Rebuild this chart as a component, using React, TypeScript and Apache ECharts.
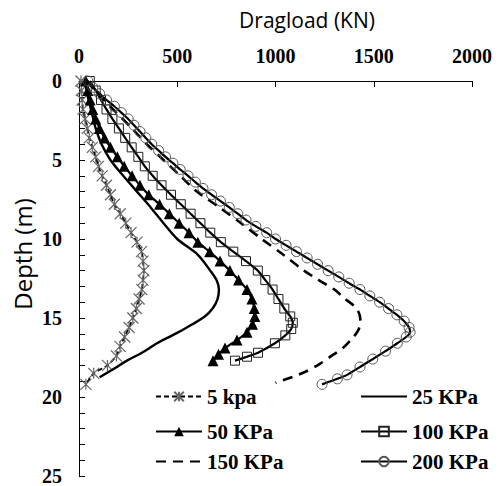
import React, { useEffect, useRef } from "react";
import * as echarts from "echarts";

// Dragload (kN) vs depth (m) for each surcharge
const depth5 = [0, 0.6, 1.2, 1.8, 2.4, 3.0, 3.6, 4.2, 4.8, 5.4, 6.0, 6.6, 7.2, 7.8, 8.4, 9.0, 9.6, 10.2, 10.8, 11.4, 12.0, 12.6, 13.2, 13.8, 14.4, 15.0, 15.6, 16.2, 16.8, 17.4, 18.0, 18.5, 19.2];
const load5 = [10, 12, 16, 20, 31, 42, 52, 68, 85, 99, 118, 140, 160, 180, 210, 238, 265, 295, 318, 326, 330, 326, 320, 306, 292, 274, 255, 232, 209, 190, 145, 75, 35];

const depth25 = [0, 1, 2, 3, 4, 5, 6, 7, 8, 9, 10, 11, 12, 12.6, 13.2, 13.8, 14.4, 14.9, 15.6, 16.1, 16.6, 17.2, 17.7, 18.2, 18.75];
const load25 = [30, 45, 65, 85, 115, 160, 225, 295, 365, 430, 500, 605, 668, 700, 712, 705, 680, 640, 549, 475, 397, 320, 244, 180, 105];

const depth50 = [0, 0.6, 1.2, 1.8, 2.4, 3.0, 3.6, 4.2, 4.8, 5.4, 6.0, 6.6, 7.2, 7.8, 8.4, 9.0, 9.6, 10.2, 10.8, 11.4, 12.0, 12.6, 13.2, 13.8, 14.4, 14.9, 15.4, 15.9, 16.4, 16.9, 17.3, 17.7];
const load50 = [35, 45, 57, 70, 85, 105, 130, 160, 195, 230, 270, 310, 355, 410, 460, 510, 560, 605, 665, 718, 768, 812, 855, 880, 892, 895, 883, 855, 804, 743, 710, 682];

const depth100 = [0, 0.6, 1.2, 1.8, 2.4, 3.0, 3.6, 4.2, 4.8, 5.4, 6.0, 6.6, 7.2, 7.8, 8.4, 9.0, 9.6, 10.2, 10.8, 11.4, 12.0, 12.6, 13.2, 13.8, 14.4, 14.9, 15.3, 15.7, 16.1, 16.6, 17.2, 17.45, 17.7];
const load100 = [55, 85, 112, 140, 170, 203, 235, 268, 302, 335, 375, 420, 468, 518, 568, 618, 668, 722, 785, 850, 910, 948, 985, 1015, 1045, 1075, 1088, 1080, 1050, 997, 911, 855, 794];

const depth150 = [0, 0.5, 1, 1.5, 2, 3, 4, 5, 6, 7, 8, 9, 10, 11, 12, 12.6, 13.2, 13.7, 14.3, 14.8, 15.3, 15.8, 16.3, 16.9, 17.4, 17.9, 18.5, 19.1];
const load150 = [40, 75, 110, 150, 190, 270, 345, 430, 515, 600, 715, 825, 930, 1040, 1145, 1220, 1300, 1345, 1405, 1428, 1432, 1420, 1390, 1343, 1285, 1226, 1135, 1000];

const depth200 = [0, 0.4, 0.8, 1.2, 1.6, 2.0, 2.4, 2.8, 3.2, 3.6, 4.0, 4.4, 4.8, 5.2, 5.6, 6.0, 6.4, 6.8, 7.2, 7.6, 8.0, 8.4, 8.8, 9.2, 9.6, 10.0, 10.4, 10.8, 11.2, 11.6, 12.0, 12.4, 12.8, 13.2, 13.6, 14.0, 14.4, 14.8, 15.2, 15.6, 15.9, 16.2, 16.6, 17.1, 17.6, 18.1, 18.6, 18.85, 19.2];
const load200 = [45, 70, 105, 140, 180, 215, 250, 280, 310, 340, 370, 405, 440, 478, 515, 555, 592, 631, 675, 720, 765, 808, 850, 900, 955, 1000, 1054, 1107, 1161, 1214, 1268, 1322, 1375, 1430, 1480, 1530, 1575, 1618, 1655, 1680, 1685, 1665, 1620, 1560, 1495, 1430, 1364, 1315, 1237];

const seriesNames = ["5 kpa", "25 KPa", "50 KPa", "100 KPa", "150 KPa", "200 KPa"];
const xTickValues = [0, 500, 1000, 1500, 2000];
const yTickValues = [0, 5, 10, 15, 20, 25];
const xTitle = "Dragload (KN)";
const yTitle = "Depth (m)";

const pairs = (d: number[], l: number[]) => d.map((v, i) => [l[i], v]);

const ASTERISK = "path://M0,0L10,10M10,0L0,10M5,0L5,10";

export default function App() {
  const ref = useRef<HTMLDivElement>(null);
  useEffect(() => {
    if (!ref.current) return;
    const chart = echarts.init(ref.current, undefined, { renderer: "svg" });
    const serif = "'Liberation Serif', 'Times New Roman', serif";
    const sans = "'Open Sans', 'Noto Sans', sans-serif";
    const legendCommon = {
      padding: 0,
      itemWidth: 46,
      itemHeight: 12,
      selectedMode: false,
      textStyle: { fontFamily: serif, fontWeight: "bold", fontSize: 21, color: "#000" },
    };
    const noSymbol = { color: "rgba(0,0,0,0)", borderWidth: 0, opacity: 0 };
    const option: any = {
      animation: false,
      backgroundColor: "#fff",
      grid: { left: 79, top: 81, width: 393, height: 395, containLabel: false },
      xAxis: {
        type: "value",
        position: "top",
        min: xTickValues[0],
        max: xTickValues[xTickValues.length - 1],
        interval: xTickValues[1] - xTickValues[0],
        axisLine: { show: true, lineStyle: { color: "#000", width: 1 } },
        axisTick: { show: true, inside: true, length: 6, lineStyle: { color: "#000" } },
        axisLabel: { fontFamily: serif, fontWeight: "bold", fontSize: 20, color: "#000", margin: 15, formatter: (v: number) => String(v) },
        splitLine: { show: false },
      },
      yAxis: {
        type: "value",
        inverse: true,
        min: yTickValues[0],
        max: yTickValues[yTickValues.length - 1],
        interval: yTickValues[1] - yTickValues[0],
        axisLine: { show: true, lineStyle: { color: "#000", width: 1 } },
        axisTick: { show: true, inside: true, length: 6, lineStyle: { color: "#000" } },
        minorTick: { show: true, splitNumber: 5, length: 6, lineStyle: { color: "#000" } },
        axisLabel: { fontFamily: serif, fontWeight: "bold", fontSize: 20, color: "#000", margin: 17, formatter: (v: number) => String(v) },
        splitLine: { show: false },
      },
      legend: [
        { ...legendCommon, data: [seriesNames[0]], left: 155, top: 386 },
        { ...legendCommon, data: [seriesNames[2]], left: 155, top: 421 },
        { ...legendCommon, data: [{ name: seriesNames[4], itemStyle: noSymbol }], left: 155, top: 451 },
        { ...legendCommon, data: [{ name: seriesNames[1], itemStyle: noSymbol }], left: 360, top: 386 },
        { ...legendCommon, data: [seriesNames[3]], left: 360, top: 421 },
        { ...legendCommon, data: [seriesNames[5]], left: 360, top: 451 },
      ],
      graphic: [
        {
          type: "text",
          x: 307,
          y: 20,
          style: { text: xTitle, fontFamily: sans, fontSize: 21, fill: "#000", align: "center", verticalAlign: "middle", textAlign: "center", textVerticalAlign: "middle" },
        },
        {
          type: "text",
          x: 22,
          y: 254,
          rotation: Math.PI / 2,
          style: { text: yTitle, fontFamily: sans, fontSize: 24, fill: "#000", align: "center", verticalAlign: "middle", textAlign: "center", textVerticalAlign: "middle" },
        },
      ],
      series: [
        {
          name: seriesNames[0],
          type: "line",
          data: pairs(depth5, load5),
          smooth: 0.2,
          showAllSymbol: true,
          symbol: ASTERISK,
          symbolSize: 11,
          lineStyle: { color: "#000", width: 1.8, type: [5, 3] },
          itemStyle: { color: "rgba(0,0,0,0)", borderColor: "#666", borderWidth: 1.2 },
          z: 2,
        },
        {
          name: seriesNames[1],
          type: "line",
          data: pairs(depth25, load25),
          smooth: 0.3,
          symbol: "none",
          lineStyle: { color: "#000", width: 2.4 },
          itemStyle: { color: "#000" },
        },
        {
          name: seriesNames[2],
          type: "line",
          data: pairs(depth50, load50),
          smooth: 0.2,
          showAllSymbol: true,
          symbol: "triangle",
          symbolSize: 11,
          lineStyle: { color: "#000", width: 2.2 },
          itemStyle: { color: "#000" },
        },
        {
          name: seriesNames[3],
          type: "line",
          data: pairs(depth100, load100),
          smooth: 0.2,
          showAllSymbol: true,
          symbol: "rect",
          symbolSize: 9,
          lineStyle: { color: "#000", width: 2.2 },
          itemStyle: { color: "rgba(0,0,0,0)", borderColor: "#222", borderWidth: 1 },
        },
        {
          name: seriesNames[4],
          type: "line",
          data: pairs(depth150, load150),
          smooth: 0.3,
          symbol: "none",
          lineStyle: { color: "#000", width: 2.6, type: [10, 7] },
          itemStyle: { color: "#000" },
        },
        {
          name: seriesNames[5],
          type: "line",
          data: pairs(depth200, load200),
          smooth: 0.2,
          showAllSymbol: true,
          symbol: "circle",
          symbolSize: 10,
          lineStyle: { color: "#000", width: 2.2 },
          itemStyle: { color: "rgba(0,0,0,0)", borderColor: "#555", borderWidth: 1 },
        },
      ],
    };
    chart.setOption(option);
    return () => chart.dispose();
  }, []);
  return <div ref={ref} style={{ position: "fixed", left: 0, top: 0, width: 499, height: 486 }} />;
}
